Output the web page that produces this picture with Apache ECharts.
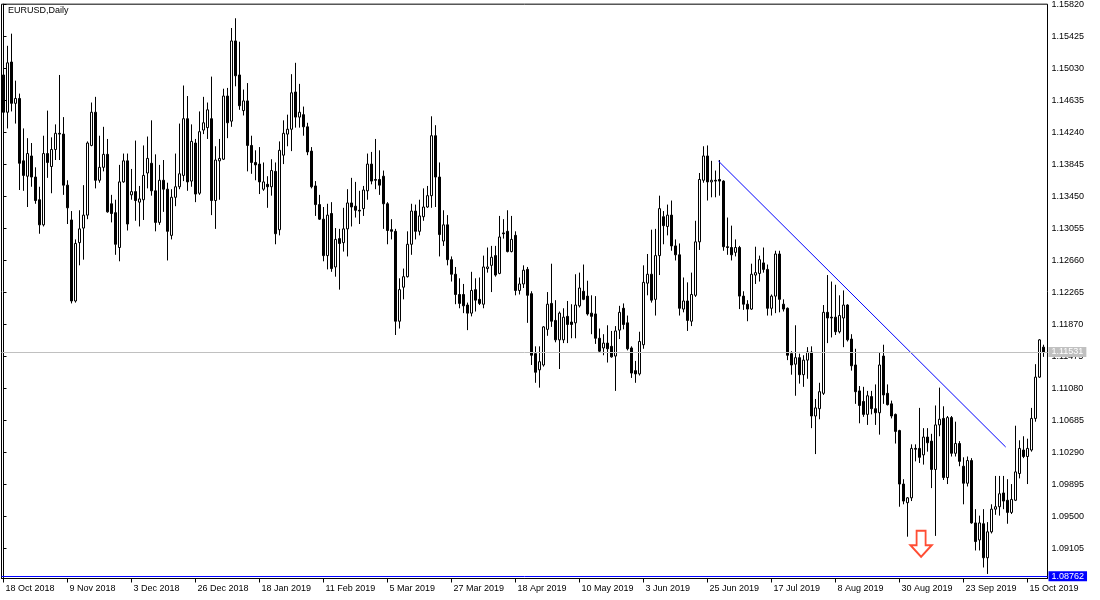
<!DOCTYPE html>
<html>
<head>
<meta charset="utf-8">
<script src="https://cdn.jsdelivr.net/npm/echarts@6/dist/echarts.min.js"></script>
<style>html,body{margin:0;padding:0;background:#fff}#c{width:1100px;height:600px}</style>
</head>
<body>
<div id="c"></div>
<script>
const chartTitle = 'EURUSD,Daily';
const opens = [1.1495,1.1449,1.1511,1.1460,1.1466,1.1389,1.1370,1.1395,1.1369,1.1341,1.1310,1.1398,1.1382,1.1403,1.1423,1.1422,1.1359,1.1316,1.1216,1.1288,1.1306,1.1322,1.1408,1.1449,1.1365,1.1381,1.1397,1.1336,1.1325,1.1282,1.1363,1.1389,1.1347,1.1351,1.1338,1.1341,1.1374,1.1386,1.1352,1.1313,1.1365,1.1354,1.1297,1.1344,1.1357,1.1371,1.1441,1.1364,1.1411,1.1349,1.1427,1.1430,1.1441,1.1340,1.1389,1.1391,1.1469,1.1438,1.1537,1.1495,1.1451,1.1463,1.1408,1.1387,1.1385,1.1354,1.1360,1.1357,1.1376,1.1304,1.1396,1.1422,1.1428,1.1474,1.1443,1.1446,1.1431,1.1401,1.1358,1.1335,1.1317,1.1272,1.1324,1.1258,1.1293,1.1288,1.1305,1.1337,1.1333,1.1328,1.1330,1.1352,1.1385,1.1366,1.1366,1.1370,1.1336,1.1304,1.1302,1.1191,1.1233,1.1246,1.1286,1.1327,1.1302,1.1320,1.1332,1.1346,1.1420,1.1369,1.1290,1.1310,1.1267,1.1249,1.1224,1.1224,1.1211,1.1201,1.1230,1.1218,1.1212,1.1256,1.1260,1.1272,1.1250,1.1300,1.1302,1.1277,1.1297,1.1229,1.1237,1.1255,1.1225,1.1151,1.1131,1.1137,1.1181,1.1213,1.1192,1.1168,1.1168,1.1197,1.1190,1.1189,1.1210,1.1228,1.1222,1.1201,1.1200,1.1170,1.1158,1.1164,1.1160,1.1148,1.1180,1.1207,1.1189,1.1158,1.1130,1.1126,1.1162,1.1238,1.1249,1.1218,1.1272,1.1320,1.1308,1.1322,1.1284,1.1273,1.1206,1.1216,1.1191,1.1223,1.1289,1.1365,1.1395,1.1363,1.1365,1.1366,1.1364,1.1283,1.1282,1.1276,1.1282,1.1222,1.1212,1.1206,1.1248,1.1250,1.1263,1.1255,1.1207,1.1222,1.1274,1.1212,1.1207,1.1151,1.1138,1.1146,1.1125,1.1143,1.1153,1.1074,1.1083,1.1102,1.1202,1.1196,1.1196,1.1178,1.1195,1.1211,1.1169,1.1137,1.1105,1.1092,1.1076,1.1098,1.1083,1.1078,1.1148,1.1102,1.1089,1.1076,1.1056,1.0990,1.0967,1.0973,1.1034,1.1034,1.1026,1.1048,1.1043,1.1008,1.1063,1.1071,1.0998,1.1072,1.1028,1.1040,1.1012,1.0991,1.1019,1.0942,1.0921,1.0941,1.0899,1.0931,1.0959,1.0962,1.0979,1.0970,1.0955,1.0970,1.1003,1.1032,1.1024,1.1032,1.1071,1.1122,1.1159];
const closes = [1.1449,1.1510,1.1460,1.1466,1.1386,1.1371,1.1398,1.1369,1.1340,1.1310,1.1398,1.1387,1.1403,1.1423,1.1422,1.1359,1.1331,1.1216,1.1287,1.1305,1.1322,1.1411,1.1449,1.1365,1.1381,1.1397,1.1326,1.1324,1.1286,1.1363,1.1389,1.1311,1.1351,1.1340,1.1342,1.1371,1.1392,1.1352,1.1313,1.1365,1.1354,1.1302,1.1344,1.1357,1.1373,1.1441,1.1363,1.1413,1.1348,1.1425,1.1436,1.1452,1.1340,1.1390,1.1392,1.1469,1.1436,1.1537,1.1494,1.1457,1.1463,1.1408,1.1387,1.1384,1.1363,1.1363,1.1357,1.1377,1.1299,1.1402,1.1423,1.1428,1.1473,1.1443,1.1449,1.1431,1.1400,1.1357,1.1335,1.1317,1.1272,1.1322,1.1256,1.1292,1.1287,1.1305,1.1337,1.1332,1.1328,1.1327,1.1353,1.1385,1.1364,1.1365,1.1359,1.1336,1.1303,1.1302,1.1191,1.1230,1.1246,1.1286,1.1327,1.1302,1.1321,1.1332,1.1346,1.1420,1.1369,1.1298,1.1310,1.1267,1.1249,1.1224,1.1213,1.1210,1.1201,1.1229,1.1217,1.1213,1.1258,1.1258,1.1270,1.1248,1.1295,1.1299,1.1277,1.1292,1.1229,1.1237,1.1254,1.1223,1.1149,1.1128,1.1141,1.1184,1.1212,1.1191,1.1168,1.1201,1.1196,1.1187,1.1187,1.1211,1.1232,1.1218,1.1200,1.1197,1.1170,1.1154,1.1164,1.1157,1.1147,1.1179,1.1202,1.1187,1.1157,1.1127,1.1126,1.1166,1.1239,1.1249,1.1217,1.1272,1.1330,1.1309,1.1322,1.1284,1.1273,1.1207,1.1216,1.1192,1.1224,1.1289,1.1366,1.1395,1.1363,1.1365,1.1364,1.1364,1.1283,1.1282,1.1273,1.1282,1.1222,1.1212,1.1206,1.1249,1.1251,1.1267,1.1255,1.1207,1.1222,1.1274,1.1218,1.1206,1.1149,1.1137,1.1146,1.1125,1.1143,1.1153,1.1074,1.1084,1.1104,1.1202,1.1195,1.1195,1.1178,1.1198,1.1211,1.1168,1.1136,1.1104,1.1087,1.1076,1.1099,1.1083,1.1078,1.1137,1.1100,1.1088,1.1074,1.1055,1.0990,1.0969,1.0973,1.1034,1.1033,1.1023,1.1048,1.1041,1.1008,1.1063,1.1070,1.0998,1.1072,1.1028,1.1040,1.1018,1.0991,1.1019,1.0942,1.0919,1.0942,1.0899,1.0931,1.0959,1.0962,1.0978,1.0969,1.0955,1.0971,1.1005,1.1034,1.1024,1.1034,1.1071,1.1122,1.1168,1.11531];
const lows = [1.1447,1.1429,1.1450,1.1435,1.1353,1.1352,1.1332,1.1357,1.1336,1.1299,1.1308,1.1368,1.1349,1.1390,1.1390,1.1347,1.1311,1.1213,1.1214,1.1260,1.1267,1.1317,1.1407,1.1355,1.1362,1.1376,1.1325,1.1313,1.1273,1.1265,1.1362,1.1303,1.1341,1.1315,1.1308,1.1316,1.1355,1.1346,1.1302,1.1310,1.1326,1.1266,1.1292,1.1333,1.1354,1.1364,1.1352,1.1357,1.1338,1.1347,1.1422,1.1416,1.1322,1.1305,1.1341,1.1390,1.1417,1.1431,1.1481,1.1452,1.1445,1.1376,1.1373,1.1365,1.1348,1.1352,1.1331,1.1346,1.1286,1.1297,1.1385,1.1407,1.1401,1.1430,1.1430,1.1420,1.1396,1.1355,1.1321,1.1316,1.1265,1.1255,1.1252,1.1246,1.1230,1.1277,1.1271,1.1308,1.1319,1.1311,1.1321,1.1341,1.1360,1.1354,1.1347,1.1305,1.1286,1.1292,1.1174,1.1182,1.1218,1.1245,1.1273,1.1292,1.1297,1.1315,1.1331,1.1331,1.1332,1.1271,1.1284,1.1260,1.1240,1.1212,1.1207,1.1201,1.1180,1.1197,1.1203,1.1211,1.1207,1.1251,1.1227,1.1246,1.1249,1.1293,1.1276,1.1276,1.1223,1.1224,1.1232,1.1189,1.1137,1.1115,1.1109,1.1135,1.1173,1.1184,1.1165,1.1132,1.1164,1.1164,1.1170,1.1170,1.1208,1.1217,1.1198,1.1175,1.1163,1.1152,1.1149,1.1140,1.1146,1.1105,1.1169,1.1181,1.1155,1.1121,1.1115,1.1124,1.1157,1.1223,1.1214,1.1198,1.1248,1.1286,1.1297,1.1278,1.1266,1.1198,1.1202,1.1179,1.1185,1.1221,1.1279,1.1362,1.1340,1.1344,1.1344,1.1346,1.1278,1.1273,1.1266,1.1271,1.1206,1.1205,1.1191,1.1205,1.1237,1.1240,1.1251,1.1198,1.1198,1.1201,1.1202,1.1203,1.1143,1.1125,1.1099,1.1114,1.1110,1.1120,1.1059,1.1027,1.1070,1.1100,1.1164,1.1171,1.1174,1.1176,1.1159,1.1166,1.1130,1.1089,1.1065,1.1073,1.1063,1.1076,1.1063,1.1051,1.1089,1.1087,1.1071,1.1040,1.0962,1.0965,1.0925,1.0969,1.1018,1.1016,1.1014,1.1030,1.0985,1.0926,1.1049,1.0995,1.0990,1.1024,1.1024,1.1012,1.0965,1.0987,1.0941,1.0908,1.0908,1.0887,1.0879,1.0929,1.0952,1.0951,1.0959,1.0941,1.0953,1.0969,1.0997,1.1022,1.0990,1.1030,1.1067,1.1121,1.1147];
const highs = [1.1499,1.1531,1.1546,1.1488,1.1472,1.1429,1.1417,1.1411,1.1381,1.1357,1.1420,1.1451,1.1418,1.1434,1.1495,1.1443,1.1365,1.1327,1.1292,1.1328,1.1359,1.1413,1.1461,1.1468,1.1420,1.1431,1.1416,1.1347,1.1341,1.1384,1.1398,1.1398,1.1379,1.1414,1.1358,1.1408,1.1419,1.1439,1.1397,1.1384,1.1390,1.1362,1.1354,1.1398,1.1435,1.1482,1.1469,1.1434,1.1416,1.1450,1.1468,1.1461,1.1493,1.1407,1.1416,1.1478,1.1479,1.1553,1.1565,1.1536,1.1477,1.1485,1.1420,1.1402,1.1406,1.1387,1.1370,1.1391,1.1387,1.1413,1.1439,1.1446,1.1496,1.1510,1.1484,1.1456,1.1436,1.1406,1.1364,1.1347,1.1332,1.1336,1.1338,1.1306,1.1305,1.1331,1.1354,1.1368,1.1363,1.1352,1.1358,1.1398,1.1400,1.1416,1.1402,1.1377,1.1338,1.1317,1.1305,1.1244,1.1256,1.1302,1.1336,1.1335,1.1341,1.1355,1.1358,1.1444,1.1433,1.1387,1.1328,1.1322,1.1271,1.1258,1.1244,1.1237,1.1214,1.1252,1.1244,1.1245,1.1272,1.1282,1.1284,1.1284,1.1321,1.1317,1.1328,1.1321,1.1302,1.1245,1.1260,1.1258,1.1228,1.1160,1.1160,1.1185,1.1227,1.1262,1.1217,1.1203,1.1207,1.1216,1.1212,1.1249,1.1251,1.1261,1.1241,1.1223,1.1222,1.1182,1.1175,1.1186,1.1179,1.1185,1.1210,1.1213,1.1198,1.1160,1.1142,1.1178,1.1260,1.1274,1.1304,1.1305,1.1346,1.1327,1.1335,1.1340,1.1292,1.1287,1.1245,1.1239,1.1251,1.1315,1.1374,1.1407,1.1408,1.1389,1.1377,1.1390,1.1365,1.1319,1.1309,1.1292,1.1284,1.1228,1.1217,1.1262,1.1283,1.1272,1.1282,1.1261,1.1224,1.1278,1.1278,1.1218,1.1208,1.1154,1.1186,1.1151,1.1149,1.1159,1.1160,1.1095,1.1115,1.1211,1.1248,1.1240,1.1236,1.1223,1.1229,1.1212,1.1175,1.1157,1.1111,1.1110,1.1105,1.1105,1.1113,1.1152,1.1162,1.1113,1.1093,1.1077,1.1057,1.0996,1.0974,1.1039,1.1039,1.1084,1.1059,1.1059,1.1052,1.1087,1.1109,1.1086,1.1074,1.1074,1.1067,1.1043,1.1023,1.1024,1.1022,1.0959,1.0951,1.0959,1.0943,1.0965,1.1000,1.1000,1.1000,1.0996,1.0990,1.1062,1.1044,1.1049,1.1046,1.1084,1.1138,1.1169,1.1162];
const yTickLabels = [1.09105,1.09500,1.09895,1.10290,1.10685,1.11080,1.11475,1.11870,1.12265,1.12660,1.13055,1.13450,1.13845,1.14240,1.14635,1.15030,1.15425,1.15820];
const xTickIndexes = [0,16,32,48,64,80,96,112,128,144,160,176,192,208,224,240,256];
const bidPrice = 1.11531;
const hLinePrice = 1.08762;
const trendStart = [178.7, 1.13889];
const trendEnd = [250.55, 1.10357];
const arrowPoint = [229.4, 1.09163];
const skipDays = ['2018-12-25', '2019-01-01'];
const monthNames = ['Jan','Feb','Mar','Apr','May','Jun','Jul','Aug','Sep','Oct','Nov','Dec'];

const categories = [];
(function(){
  const d = new Date(Date.UTC(2018, 9, 18));
  while (categories.length < opens.length) {
    const wd = d.getUTCDay();
    const iso = d.toISOString().slice(0, 10);
    if (wd !== 0 && wd !== 6 && skipDays.indexOf(iso) < 0) {
      categories.push(d.getUTCDate() + ' ' + monthNames[d.getUTCMonth()] + ' ' + d.getUTCFullYear());
    }
    d.setUTCDate(d.getUTCDate() + 1);
  }
})();

const candles = opens.map((o, i) => [i, o, closes[i], lows[i], highs[i]]);
const FONT = 'Liberation Sans';
const yMax = 1.15824, yMin = 1.08734;

const chart = echarts.init(document.getElementById('c'));
chart.setOption({
  animation: false,
  backgroundColor: '#ffffff',
  textStyle: { fontFamily: FONT },
  title: {
    text: chartTitle, left: 3, top: 1,
    textStyle: { fontSize: 9, fontWeight: 'normal', color: '#000', fontFamily: FONT }
  },
  grid: { left: 1.5, top: 0.5, width: 1046, height: 578, show: true, borderColor: '#000', borderWidth: 1, containLabel: false },
  xAxis: {
    type: 'value', min: -0.5, max: 261,
    axisLine: { show: true, onZero: false, lineStyle: { color: '#000', width: 1 } },
    axisTick: { show: true, customValues: xTickIndexes, length: 4, lineStyle: { color: '#000' } },
    axisLabel: { customValues: xTickIndexes, align: 'left', margin: 6, fontSize: 9, color: '#000', fontFamily: FONT,
      padding: [0, 0, 0, 2], formatter: v => categories[Math.round(v)] || '' },
    splitLine: { show: false }
  },
  yAxis: {
    type: 'value', position: 'right', min: yMin, max: yMax, scale: true,
    axisLine: { show: true, lineStyle: { color: '#000', width: 1 } },
    axisTick: { show: true, length: 3, customValues: yTickLabels, lineStyle: { color: '#000' } },
    axisLabel: { customValues: yTickLabels, margin: 4, fontSize: 9, color: '#000', fontFamily: FONT,
      verticalAlign: 'middle', padding: [7, 0, 0, 0], formatter: v => v.toFixed(5) },
    splitLine: { show: false }
  },
  series: [
    {
      type: 'candlestick', data: candles, barWidth: 2, z: 3,
      encode: { x: 0, y: [1, 2, 3, 4] },
      itemStyle: { color: '#ffffff', color0: '#000000', borderColor: '#000000', borderColor0: '#000000', borderWidth: 1 }
    },
    {
      type: 'line', data: [trendStart, trendEnd], symbol: 'none', silent: true, z: 4,
      lineStyle: { color: '#0000ff', width: 1 },
      markLine: {
        symbol: 'none', silent: true, animation: false, precision: 5,
        data: [
          { yAxis: bidPrice, lineStyle: { color: '#c0c0c0', type: 'solid', width: 1 },
            label: { show: true, position: 'end', distance: 1, formatter: bidPrice.toFixed(5), backgroundColor: '#c0c0c0', color: '#fff', fontSize: 9, fontFamily: FONT, padding: [1, 3, 0, 3] } },
          { yAxis: hLinePrice, lineStyle: { color: '#0000ff', type: 'solid', width: 1 },
            label: { show: true, position: 'end', distance: 1, formatter: hLinePrice.toFixed(5), backgroundColor: '#0000ff', color: '#fff', fontSize: 9, fontFamily: FONT, padding: [1, 3, 0, 3] } }
        ]
      }
    },
    {
      type: 'scatter', data: [arrowPoint], silent: true, z: 5,
      symbol: 'path://M6,0 L15,0 L15,14.5 L21,14.5 L10.5,26 L0,14.5 L6,14.5 Z',
      symbolSize: [21, 26],
      itemStyle: { color: '#ffffff', borderColor: '#ff2000', borderWidth: 2 }
    }
  ]
});
</script>
</body>
</html>
